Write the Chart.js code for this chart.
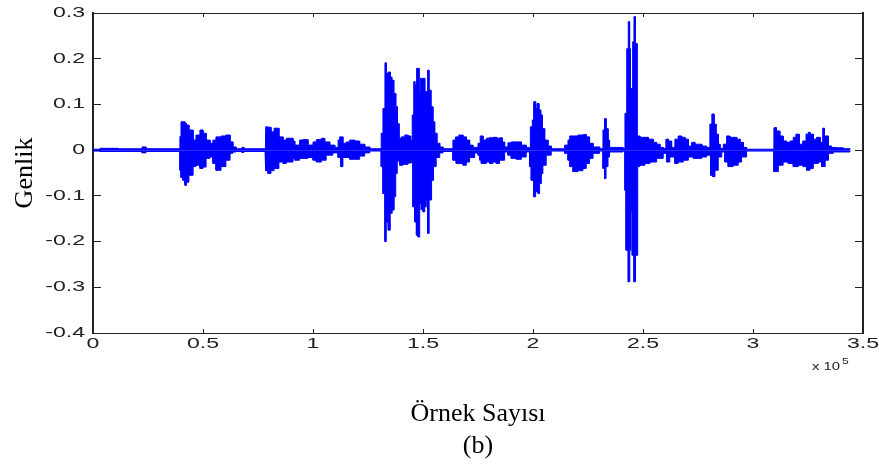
<!DOCTYPE html>
<html>
<head>
<meta charset="utf-8">
<script src="https://cdn.jsdelivr.net/npm/chart.js@4/dist/chart.umd.min.js"></script>
<style>
  html, body { margin: 0; padding: 0; background: #ffffff; }
  canvas { display: block; }
</style>
</head>
<body>
<canvas id="chart" width="879" height="473"></canvas>
<script>
// ---- Data: amplitude envelope (sample index -> value held until the next sample index) ----
const upperX = [0,3200,11400,22300,24100,39500,40000,41800,42500,43600,45500,46800,48600,50000,51400,53200,54500,55900,58200,60400,62300,63600,65000,67700,68600,78200,78600,79500,80900,82300,84500,86400,87900,90900,91700,93900,95400,97700,100000,101500,103800,105300,107600,109900,111400,112100,113600,115100,116700,119000,121200,123500,125800,131000,131800,132700,133300,134200,135100,135800,136700,137600,138300,139100,140100,141700,143200,144400,145100,145800,146300,147100,148200,148800,150800,152100,152700,153600,154500,155300,156300,157600,159100,163600,164800,166300,168200,169700,171200,172700,175000,176000,177300,178800,180000,181800,183600,184800,186000,187100,188600,190100,192400,194700,196900,198200,198800,199700,200300,201200,201800,202700,203500,204200,205300,206800,208300,214400,215900,216700,220400,222700,224200,225700,227300,230300,231800,232500,233200,234100,234800,240900,241800,242600,243300,243900,244200,245300,245900,246500,247300,248600,250900,252400,254700,256200,257700,259200,260400,261500,263000,264500,266000,267600,269100,270600,272100,273600,275100,276700,278900,280400,281300,282300,283200,284200,285000,286500,288000,289500,291000,292600,294100,295600,297100,309500,310700,312200,313700,315300,316800,318300,319500,321000,322600,324100,325100,325900,327400,328900,330500,331700,332500,334300,335700,338000,341000,344100];
const upperY = [0.002,0.004,0.003,0.007,0.003,0.03,0.062,0.058,0.055,0.044,0.022,0.033,0.044,0.037,0.022,0.015,0.022,0.029,0.031,0.033,0.018,0.007,0.003,0.006,0.003,0.035,0.051,0.05,0.04,0.048,0.029,0.022,0.026,0.02,0.011,0.022,0.023,0.011,0.018,0.023,0.026,0.018,0.011,0.006,0.022,0.029,0.015,0.018,0.022,0.02,0.013,0.007,0.003,0.037,0.091,0.191,0.168,0.171,0.16,0.153,0.124,0.095,0.058,0.026,0.029,0.033,0.031,0.022,0.077,0.15,0.142,0.179,0.124,0.157,0.128,0.175,0.131,0.095,0.062,0.037,0.015,0.007,0.003,0.022,0.029,0.033,0.029,0.022,0.011,0.006,0.015,0.031,0.022,0.026,0.027,0.028,0.026,0.027,0.018,0.007,0.016,0.018,0.018,0.011,0.006,0.004,0.051,0.066,0.106,0.091,0.102,0.088,0.077,0.047,0.022,0.009,0.003,0.011,0.022,0.031,0.033,0.034,0.029,0.015,0.007,0.003,0.044,0.069,0.047,0.022,0.006,0.003,0.08,0.222,0.281,0.222,0.135,0.237,0.292,0.233,0.031,0.028,0.028,0.024,0.017,0.013,0.006,0.004,0.024,0.02,0.006,0.024,0.031,0.028,0.024,0.009,0.017,0.013,0.013,0.009,0.006,0.057,0.079,0.057,0.035,0.013,0.004,0.013,0.031,0.028,0.028,0.024,0.017,0.006,0.002,0.049,0.042,0.031,0.02,0.017,0.02,0.028,0.035,0.013,0.02,0.035,0.039,0.035,0.024,0.028,0.017,0.048,0.031,0.009,0.006,0.005,0.003,0.002];

const lowerX = [0,3200,11400,22300,24100,39500,40000,40900,41800,42500,43600,45500,46800,48600,50000,51400,53200,54500,55900,58200,60400,62300,63600,65000,67700,68600,78200,78600,79500,80900,82300,84500,86400,87900,90900,91700,93900,97700,100000,101500,103800,106000,109000,111400,112600,113600,116700,118900,121200,123500,125800,131000,131800,132700,133300,134200,135100,136000,136900,137600,138300,139400,140900,143200,144700,145400,146200,147000,147700,148500,149200,150000,150800,151500,152100,152800,153900,154800,156000,157600,159100,163600,165100,168200,169700,171200,173500,175000,175800,176500,178800,180300,181800,183300,184800,187100,188600,190100,192400,194700,196900,198500,199200,200300,201200,202300,203000,203800,204500,206000,208300,214400,215900,216700,218200,220400,222700,224200,225700,227300,230300,231800,232500,233200,234100,234800,240900,241800,242300,243300,244000,244500,245100,245900,246600,247600,248600,250900,253200,256200,259200,260700,262200,264500,266000,268300,270600,272900,275100,276700,278900,280700,281700,282700,284200,285800,287200,288700,291000,293300,294800,297100,309500,311500,313700,316000,318300,320600,322800,324400,325900,327400,329700,331200,332800,334300,336500,344100];
const lowerY = [-0.002,-0.003,-0.003,-0.006,-0.003,-0.044,-0.06,-0.066,-0.077,-0.07,-0.055,-0.036,-0.033,-0.04,-0.037,-0.018,-0.015,-0.029,-0.044,-0.036,-0.022,-0.007,-0.004,-0.003,-0.005,-0.003,-0.029,-0.045,-0.051,-0.045,-0.04,-0.026,-0.029,-0.026,-0.018,-0.022,-0.018,-0.016,-0.022,-0.026,-0.022,-0.011,-0.006,-0.016,-0.036,-0.016,-0.02,-0.02,-0.013,-0.006,-0.002,-0.036,-0.095,-0.2,-0.157,-0.175,-0.138,-0.131,-0.102,-0.051,-0.024,-0.033,-0.031,-0.028,-0.02,-0.124,-0.157,-0.186,-0.19,-0.117,-0.13,-0.135,-0.124,-0.109,-0.182,-0.109,-0.066,-0.036,-0.016,-0.006,-0.003,-0.022,-0.029,-0.033,-0.026,-0.016,-0.006,-0.011,-0.022,-0.029,-0.026,-0.029,-0.026,-0.029,-0.022,-0.004,-0.011,-0.018,-0.02,-0.015,-0.004,-0.036,-0.066,-0.102,-0.091,-0.095,-0.073,-0.051,-0.033,-0.011,-0.002,-0.007,-0.022,-0.036,-0.047,-0.045,-0.04,-0.029,-0.018,-0.007,-0.002,-0.04,-0.062,-0.036,-0.015,-0.004,-0.002,-0.088,-0.219,-0.288,-0.219,-0.135,-0.23,-0.288,-0.23,-0.036,-0.033,-0.029,-0.026,-0.018,-0.007,-0.026,-0.015,-0.029,-0.026,-0.022,-0.015,-0.018,-0.018,-0.015,-0.011,-0.055,-0.058,-0.044,-0.015,-0.004,-0.026,-0.036,-0.033,-0.026,-0.015,-0.002,-0.047,-0.033,-0.026,-0.029,-0.036,-0.033,-0.036,-0.044,-0.04,-0.029,-0.026,-0.036,-0.022,-0.007,-0.004,-0.002];

// ---- Axes and texts ----
const xMin = 0, xMax = 350000, xStep = 50000;
const xExponentBase = 'x 10', xExponent = '5';
const yMin = -0.4, yMax = 0.3, yStep = 0.1;
const yTitle = 'Genlik';
const xTitle = ['Örnek Sayısı', '(b)'];

const INK = '#222222';
const WAVE = '#0000ff';
const STRETCH = 1.65;
const tickFont = { family: '"Liberation Sans", Arial, Helvetica, sans-serif', size: 14 };
const titleFont = { family: '"Liberation Serif", "Times New Roman", serif', size: 26 };

// each envelope value holds until the next sample index -> step outline
function stepOutline(xs, ys) {
  const pts = [];
  for (let i = 0; i < xs.length; i++) {
    pts.push({ x: xs[i], y: ys[i] });
    if (i + 1 < xs.length) pts.push({ x: xs[i + 1], y: ys[i] });
  }
  return pts;
}

// Horizontally stretched tick labels, as in the exported figure
function patchScale(scale) {
  if (!scale || scale.__stretched) return;
  scale.__stretched = true;
  const orig = scale.drawLabels;
  scale.drawLabels = function (area) {
    const ctx = this.ctx;
    const base = CanvasRenderingContext2D.prototype.fillText;
    ctx.fillText = function (t, x, y, mw) {
      this.save();
      this.translate(x, y);
      this.scale(STRETCH, 1);
      if (mw === undefined) base.call(this, t, 0, 0); else base.call(this, t, 0, 0, mw);
      this.restore();
    };
    try { orig.call(this, area); } finally { delete ctx.fillText; }
  };
}

// Fill every waveform envelope down/up to the zero line, using the line element's own points
const envelopeFill = {
  id: 'envelopeFill',
  beforeDatasetDraw(chart, args) {
    const line = args.meta.dataset;
    if (!line || !line.points || !line.points.length) return;
    const pts = line.points;
    const ctx = chart.ctx;
    const area = chart.chartArea;
    const zero = chart.scales.y.getPixelForValue(0);
    ctx.save();
    ctx.beginPath();
    ctx.rect(area.left, area.top, area.right - area.left, area.bottom - area.top);
    ctx.clip();
    ctx.beginPath();
    ctx.moveTo(pts[0].x, zero);
    for (const p of pts) ctx.lineTo(p.x, p.y);
    ctx.lineTo(pts[pts.length - 1].x, zero);
    ctx.closePath();
    ctx.fillStyle = line.options.backgroundColor;
    ctx.fill();
    ctx.restore();
  }
};

const figurePlugin = {
  id: 'figure',
  beforeDraw(chart) {
    patchScale(chart.scales.x);
    patchScale(chart.scales.y);
  },
  afterDraw(chart) {
    const { ctx, chartArea } = chart;
    ctx.save();
    ctx.fillStyle = INK;
    ctx.textBaseline = 'alphabetic';
    ctx.textAlign = 'left';
    ctx.translate(chartArea.right - 51, chartArea.bottom + 37);
    ctx.scale(1.35, 1);
    ctx.font = '11px ' + tickFont.family;
    ctx.fillText(xExponentBase, 0, 0);
    const w = ctx.measureText(xExponentBase).width;
    ctx.font = '9px ' + tickFont.family;
    ctx.fillText(xExponent, w + 1.5, -6);
    ctx.restore();
  }
};

const common = {
  stepped: false,
  fill: false,
  borderColor: WAVE,
  backgroundColor: WAVE,
  borderWidth: 1,
  pointRadius: 0,
  pointHoverRadius: 0,
  tension: 0,
  xAxisID: 'x',
  yAxisID: 'y'
};

function fmt(v) {
  const r = Math.round(v * 10) / 10;
  return (Object.is(r, -0) ? 0 : r).toString();
}

new Chart(document.getElementById('chart'), {
  type: 'line',
  data: {
    datasets: [
      Object.assign({ label: 'upper', data: stepOutline(upperX, upperY) }, common),
      Object.assign({ label: 'lower', data: stepOutline(lowerX, lowerY) }, common)
    ]
  },
  options: {
    responsive: false,
    devicePixelRatio: 1,
    animation: false,
    events: [],
    layout: { padding: { left: 0, right: 16, top: 0, bottom: 0 } },
    plugins: { legend: { display: false }, tooltip: { enabled: false } },
    scales: {
      x: {
        type: 'linear', position: 'bottom', min: xMin, max: xMax,
        ticks: { stepSize: xStep, autoSkip: false, maxRotation: 0, padding: 7, color: INK, font: tickFont,
                 callback: v => fmt(v / 100000) },
        grid: { drawOnChartArea: false, drawTicks: true, tickLength: -4, color: INK, lineWidth: 1 },
        border: { display: true, color: INK, width: 1 },
        title: { display: true, text: xTitle, color: '#000', font: Object.assign({ lineHeight: 1.22 }, titleFont),
                 padding: { top: 0, bottom: 11 } },
        afterFit: s => { s.height = 140; s.paddingLeft = 0; s.paddingRight = 0; }
      },
      x2: {
        type: 'linear', position: 'top', min: xMin, max: xMax,
        ticks: { stepSize: xStep, display: false },
        grid: { drawOnChartArea: false, drawTicks: true, tickLength: -4, color: INK, lineWidth: 1 },
        border: { display: true, color: INK, width: 1 },
        afterFit: s => { s.height = 13; s.paddingLeft = 0; s.paddingRight = 0; }
      },
      y: {
        type: 'linear', position: 'left', min: yMin, max: yMax,
        ticks: { stepSize: yStep, autoSkip: false, padding: 16, color: INK, font: tickFont, callback: v => fmt(v) },
        grid: { drawOnChartArea: false, drawTicks: true, tickLength: -8, color: INK, lineWidth: 1 },
        border: { display: true, color: INK, width: 2 },
        title: { display: true, text: yTitle, color: '#000', font: titleFont, padding: { top: 10, bottom: 0 } },
        afterFit: s => { s.width = 93; s.paddingTop = 0; s.paddingBottom = 0; }
      },
      y2: {
        type: 'linear', position: 'right', min: yMin, max: yMax,
        ticks: { stepSize: yStep, display: false },
        grid: { drawOnChartArea: false, drawTicks: true, tickLength: -8, color: INK, lineWidth: 1 },
        border: { display: true, color: INK, width: 2 },
        afterFit: s => { s.width = 0; s.paddingTop = 0; s.paddingBottom = 0; }
      }
    }
  },
  plugins: [envelopeFill, figurePlugin]
});
</script>
</body>
</html>
